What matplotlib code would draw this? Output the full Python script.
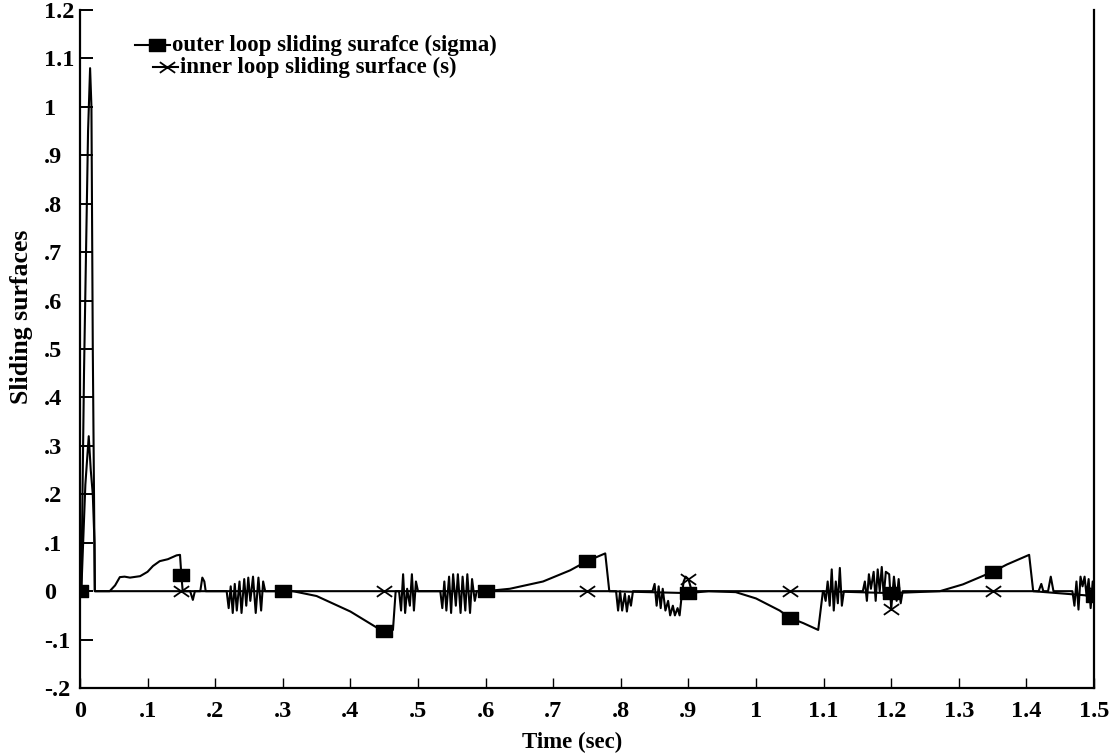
import numpy as np
import matplotlib
matplotlib.use("Agg")
import matplotlib.pyplot as plt
from matplotlib.path import Path
from matplotlib.ticker import FuncFormatter

# ---- data -------------------------------------------------------------
# outer loop sliding surface (sigma)
sigma_time = [0.0, 0.002, 0.008, 0.013, 0.016, 0.019, 0.0215, 0.022,
              0.044, 0.052, 0.059, 0.066, 0.074, 0.089, 0.100, 0.108, 0.118, 0.130, 0.143, 0.148, 0.150, 0.152,
              0.300, 0.315, 0.350, 0.400, 0.440, 0.450, 0.463, 0.467,
              0.600, 0.636, 0.685, 0.725, 0.750, 0.777, 0.783,
              0.900, 0.930, 0.970, 1.000, 1.035, 1.050, 1.070, 1.092, 1.099,
              1.200, 1.272, 1.306, 1.350, 1.371, 1.404, 1.410, 1.500]
sigma_value = [0.0, 0.0, 0.22, 0.32, 0.25, 0.20, 0.10, 0.0,
               0.0, 0.012, 0.029, 0.030, 0.028, 0.031, 0.040, 0.052, 0.062, 0.066, 0.074, 0.075, 0.033, 0.0,
               0.0, 0.0, -0.010, -0.042, -0.076, -0.082, -0.080, 0.0,
               0.0, 0.005, 0.020, 0.043, 0.062, 0.078, 0.0,
               -0.004, 0.0, -0.002, -0.015, -0.040, -0.055, -0.066, -0.080, 0.0,
               -0.004, 0.0, 0.014, 0.040, 0.055, 0.075, 0.0, -0.010]

# inner loop sliding surface (s)
s_time = [0.0, 0.002, 0.006, 0.012, 0.015, 0.017, 0.019, 0.021, 0.022,
          0.150, 0.163, 0.167, 0.170, 0.178, 0.181, 0.184, 0.186,
          0.217, 0.220, 0.223, 0.226, 0.229, 0.232, 0.236, 0.239, 0.243, 0.246, 0.249, 0.252, 0.256, 0.260, 0.264, 0.268, 0.271, 0.274,
          0.300, 0.450,
          0.472, 0.475, 0.478, 0.481, 0.484, 0.488, 0.491, 0.494, 0.497, 0.500,
          0.533, 0.536, 0.539, 0.542, 0.546, 0.549, 0.552, 0.556, 0.559, 0.563, 0.566, 0.570, 0.573, 0.577, 0.580, 0.584, 0.587,
          0.600, 0.750,
          0.793, 0.796, 0.799, 0.802, 0.806, 0.809, 0.812, 0.815, 0.818,
          0.847, 0.850, 0.853, 0.856, 0.859, 0.862, 0.866, 0.870, 0.873, 0.877, 0.880, 0.884, 0.887, 0.890, 0.893, 0.896, 0.900, 0.902, 0.905,
          1.050,
          1.100, 1.103, 1.106, 1.109, 1.112, 1.115, 1.118, 1.121, 1.124, 1.127, 1.130,
          1.158, 1.161, 1.164, 1.167, 1.170, 1.174, 1.177, 1.180, 1.183, 1.186, 1.189, 1.192, 1.197, 1.200, 1.204, 1.208, 1.211, 1.214, 1.217,
          1.350,
          1.418, 1.422, 1.425, 1.432, 1.436, 1.440,
          1.468, 1.471, 1.474, 1.477, 1.480, 1.483, 1.486, 1.489, 1.492, 1.495, 1.498, 1.500]
s_value = [0.0, 0.0, 0.45, 0.95, 1.08, 1.00, 0.50, 0.15, 0.0,
           0.0, 0.0, -0.018, 0.0, 0.0, 0.028, 0.020, 0.0,
           0.0, -0.035, 0.010, -0.045, 0.015, -0.040, 0.020, -0.045, 0.025, -0.030, 0.028, -0.020, 0.030, -0.045, 0.028, -0.040, 0.020, 0.0,
           0.0, 0.0,
           0.0, -0.040, 0.035, -0.045, 0.005, -0.030, 0.035, -0.040, 0.020, 0.0,
           0.0, -0.035, 0.020, -0.040, 0.030, -0.045, 0.035, -0.030, 0.035, -0.045, 0.030, -0.040, 0.035, -0.045, 0.025, -0.020, 0.0,
           0.0, 0.0,
           0.0, -0.040, 0.0, -0.040, -0.005, -0.042, -0.010, -0.030, 0.0,
           0.0, 0.015, -0.030, 0.010, -0.035, 0.005, -0.040, -0.020, -0.050, -0.030, -0.050, -0.035, -0.050, -0.010, 0.020, 0.030, 0.025, 0.015, 0.0,
           0.0,
           0.0, -0.020, 0.020, -0.030, 0.045, -0.040, 0.020, -0.025, 0.048, -0.030, 0.0,
           0.0, 0.020, -0.020, 0.035, 0.005, 0.040, -0.020, 0.045, 0.0, 0.050, -0.010, 0.040, 0.035, -0.037, 0.030, -0.020, 0.025, -0.025, 0.0,
           0.0,
           0.0, 0.015, 0.0, 0.0, 0.030, 0.0,
           0.0, -0.030, 0.020, -0.038, 0.030, 0.010, 0.030, -0.010, 0.025, -0.035, 0.020, 0.0]

marker_times = [0.0, 0.15, 0.30, 0.45, 0.60, 0.75, 0.90, 1.05, 1.20, 1.35, 1.50]

x_ticks = [0.0, 0.1, 0.2, 0.3, 0.4, 0.5, 0.6, 0.7, 0.8, 0.9, 1.0, 1.1, 1.2, 1.3, 1.4, 1.5]
y_ticks = [-0.2, -0.1, 0.0, 0.1, 0.2, 0.3, 0.4, 0.5, 0.6, 0.7, 0.8, 0.9, 1.0, 1.1, 1.2]

label_sigma = "outer loop sliding surafce (sigma)"
label_s = "inner loop sliding surface (s)"

assert len(sigma_time) == len(sigma_value)
assert len(s_time) == len(s_value)

# ---- styling ----------------------------------------------------------
plt.rcParams["font.family"] = ["Liberation Serif", "DejaVu Serif"]
plt.rcParams["font.weight"] = "bold"
plt.rcParams["axes.labelweight"] = "bold"

# flattened rectangle and flattened cross markers
rect_marker = Path([(-1.0, -0.8), (1.0, -0.8), (1.0, 0.8), (-1.0, 0.8), (-1.0, -0.8)],
                   [Path.MOVETO, Path.LINETO, Path.LINETO, Path.LINETO, Path.CLOSEPOLY])
cross_marker = Path([(-1.0, -0.7), (1.0, 0.7), (-1.0, 0.7), (1.0, -0.7)],
                    [Path.MOVETO, Path.LINETO, Path.MOVETO, Path.LINETO])


def marker_indices(times):
    t = np.asarray(times)
    return [int(np.argmin(np.abs(t - m))) for m in marker_times]


def short_label(v, _pos=None):
    txt = f"{v:.1f}"
    if txt.endswith(".0"):
        txt = txt[:-2]
    if txt == "-0":
        txt = "0"
    if abs(v) < 1 and txt != "0":
        txt = txt.replace("0.", ".")
    return txt


fig = plt.figure(figsize=(11.15, 7.55), dpi=100)
ax = fig.add_axes([0.0717, 0.0887, 0.9095, 0.8980])

LW = 1.5
ax.plot(s_time, s_value, color="black", lw=LW,
        marker=cross_marker, markersize=11, markeredgewidth=1.3,
        markevery=marker_indices(s_time), zorder=3)
ax.plot(sigma_time, sigma_value, color="black", lw=LW,
        marker=rect_marker, markersize=11, markerfacecolor="black",
        markeredgecolor="black", markevery=marker_indices(sigma_time), zorder=4)

ax.set_xlim(0, 1.5)
ax.set_ylim(-0.2, 1.2)
ax.set_xticks(x_ticks)
ax.set_yticks(y_ticks)
ax.xaxis.set_major_formatter(FuncFormatter(short_label))
ax.yaxis.set_major_formatter(FuncFormatter(short_label))

ax.spines["top"].set_visible(False)
for side in ("left", "bottom", "right"):
    ax.spines[side].set_linewidth(1.6)
ax.tick_params(axis="y", direction="in", length=9.5, width=1.4, pad=26, labelsize=17.5)
ax.tick_params(axis="x", direction="in", length=7, width=1.0, pad=9, labelsize=17.5)
for lbl in ax.get_yticklabels():
    lbl.set_horizontalalignment("left")

ax.set_xlabel("Time (sec)", fontsize=16.5, fontweight="bold")
ax.xaxis.set_label_coords(0.485, -0.065)
fig.text(22 / 1115, 1 - 317 / 755, "Sliding surfaces", rotation=90,
         ha="center", va="center", fontsize=18.5)

# legend entries drawn in axes coordinates
tr = ax.transAxes
y1, y2 = 0.948, 0.916
ax.plot([0.0542, 0.0888], [y1, y1], transform=tr, color="black", lw=LW, clip_on=False)
ax.plot([0.0764], [y1], transform=tr, marker=rect_marker, markersize=11,
        color="black", clip_on=False)
ax.text(0.0907, y1, label_sigma, transform=tr, va="center", ha="left", fontsize=16.5)
ax.plot([0.072, 0.0966], [y2, y2], transform=tr, color="black", lw=LW, clip_on=False)
ax.plot([0.0858], [y2], transform=tr, marker=cross_marker, markersize=11,
        markeredgewidth=1.3, color="black", clip_on=False)
ax.text(0.0986, y2, label_s, transform=tr, va="center", ha="left", fontsize=16.5)

fig.savefig("out.png", dpi=100)
